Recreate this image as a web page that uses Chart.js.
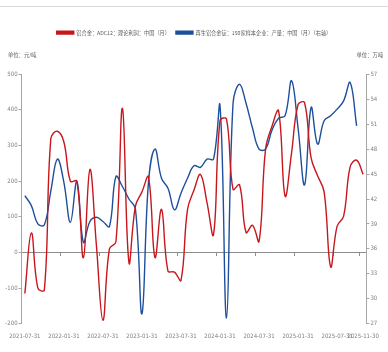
<!DOCTYPE html>
<html>
<head>
<meta charset="utf-8">
<script src="https://cdn.jsdelivr.net/npm/chart.js@4.4.1/dist/chart.umd.min.js"></script>
<style>
  html, body { margin: 0; padding: 0; background: #fff; }
  #wrap { position: relative; width: 388px; height: 352px; }
  #topline { position: absolute; left: 0; top: 6px; width: 388px; height: 1px; background: #d9d9d9; }
  canvas { position: absolute; left: 0; top: 0; }
</style>
</head>
<body>
<div id="wrap">
  <canvas id="chart" width="388" height="352"></canvas>
  <div id="topline"></div>
</div>
<script>
// monthly points, month-end dates
const months = [
    '2021-07-31', '2021-08-31', '2021-09-30', '2021-10-31', '2021-11-30', '2021-12-31',
    '2022-01-31', '2022-02-28', '2022-03-31', '2022-04-30', '2022-05-31', '2022-06-30',
    '2022-07-31', '2022-08-31', '2022-09-30', '2022-10-31', '2022-11-30', '2022-12-31',
    '2023-01-31', '2023-02-28', '2023-03-31', '2023-04-30', '2023-05-31', '2023-06-30',
    '2023-07-31', '2023-08-31', '2023-09-30', '2023-10-31', '2023-11-30', '2023-12-31',
    '2024-01-31', '2024-02-29', '2024-03-31', '2024-04-30', '2024-05-31', '2024-06-30',
    '2024-07-31', '2024-08-31', '2024-09-30', '2024-10-31', '2024-11-30', '2024-12-31',
    '2025-01-31', '2025-02-28', '2025-03-31', '2025-04-30', '2025-05-31', '2025-06-30',
    '2025-07-31', '2025-08-31', '2025-09-30', '2025-10-31', '2025-11-30'
];

const tickLabels = [
    '2021-07-31', '2022-01-31', '2022-07-31', '2023-01-31', '2023-07-31',
    '2024-01-31', '2024-07-31', '2025-01-31', '2025-07-31', '2025-11-30'
];

// ADC12 theoretical profit, yuan/t (left axis)
const profit = [
    -115, 55, -100, -105, 320, 340, 310, 200, 200, -15,
    233, 20, -190, 10, 30, 404, -28, 130, 170, 212,
    -14, 121, -52, -55, -78, 120, 175, 219, 140, 50,
    370, 374, 177, 190, 56, 76, 31, 290, 355, 397,
    158, 280, 415, 420, 265, 215, 170, -40, 74, 102,
    240, 259, 219
];

// secondary aluminium alloy ingot output, 10k t (right axis)
const output = [
    42.4, 41.2, 39.0, 38.9, 43.0, 46.8, 44.0, 39.2, 44.1, 36.8,
    39.3, 39.8, 39.3, 38.7, 44.7, 43.5, 42.0, 40.8, 28.2, 44.0,
    48.0, 44.5, 43.3, 40.7, 42.7, 44.5, 46.0, 45.8, 46.8, 46.8,
    53.2, 27.7, 53.5, 55.8, 53.5, 50.5, 48.0, 48.0, 50.3, 51.7,
    52.0, 56.2, 50.5, 43.7, 53.0, 48.6, 51.4, 52.0, 52.8, 53.8,
    56.0, 50.8
];

const profitName = '铝合金：ADC12：理论利润：中国（月）';
const outputName = '再生铝合金锭：150家样本企业：产量：中国（月）（右轴）';
const leftUnit = '单位：元/吨';
const rightUnit = '单位：万吨';

const RED = '#C8161D';
const BLUE = '#1D4F9C';
const AXIS = '#a6a6a6';
const TICK_FONT = { family: "'Liberation Sans Narrow', 'DejaVu Sans Condensed', 'Liberation Sans', sans-serif", size: 6 };
const CJK_FONT = "'Noto Sans CJK SC', sans-serif";

// extra room under the legend
const legendSpacer = {
    id: 'legendSpacer',
    beforeInit(chart) {
        const fit = chart.legend.fit;
        chart.legend.fit = function () {
            fit.bind(chart.legend)();
            this.height += 29;
        };
    }
};

const units = {
    id: 'units',
    afterDraw(chart) {
        const { ctx, chartArea } = chart;
        ctx.save();
        ctx.font = '5.3px ' + CJK_FONT;
        ctx.fillStyle = '#595959';
        ctx.textBaseline = 'middle';
        ctx.textAlign = 'left';
        ctx.fillText(leftUnit, 8, chartArea.top - 19);
        ctx.textAlign = 'right';
        ctx.fillText(rightUnit, 383, chartArea.top - 19);
        ctx.restore();
    }
};

const ctx = document.getElementById('chart').getContext('2d');
new Chart(ctx, {
    type: 'line',
    data: {
        labels: months,
        datasets: [{
            label: profitName,
            data: profit,
            yAxisID: 'y',
            borderColor: RED,
            backgroundColor: RED,
            borderWidth: 1.4,
            pointRadius: 0,
            tension: 0.4
        }, {
            label: outputName,
            data: output,
            yAxisID: 'y1',
            borderColor: BLUE,
            backgroundColor: BLUE,
            borderWidth: 1.4,
            pointRadius: 0,
            tension: 0.4
        }]
    },
    options: {
        responsive: false,
        animation: false,
        layout: { padding: { top: 24, bottom: 3, left: 0, right: 0 } },
        plugins: {
            legend: {
                position: 'top',
                labels: {
                    boxWidth: 17,
                    boxHeight: 3,
                    padding: 6,
                    color: '#595959',
                    font: { family: CJK_FONT, size: 5.2 }
                }
            },
            tooltip: { enabled: false }
        },
        scales: {
            x: {
                type: 'category',
                offset: true,
                grid: { display: false, drawTicks: false },
                border: { display: false },
                ticks: {
                    autoSkip: false,
                    maxRotation: 0,
                    padding: 9,
                    color: '#808080',
                    font: TICK_FONT,
                    callback(value) {
                        const label = this.getLabelForValue(value);
                        return tickLabels.includes(label) ? label : '';
                    }
                }
            },
            xZero: {
                type: 'category',
                position: { y: 0 },
                offset: true,
                grid: {
                    offset: true,
                    drawOnChartArea: false,
                    drawTicks: true,
                    tickLength: 3,
                    lineWidth: 1,
                    tickColor: (c) => tickLabels.includes(months[c.index]) && c.index > 0 ? '#8c8c8c' : 'rgba(0,0,0,0)'
                },
                border: { color: '#8c8c8c', width: 1 },
                ticks: { display: false }
            },
            y: {
                position: 'left',
                min: -200,
                max: 500,
                ticks: { stepSize: 100, padding: 1, color: '#808080', font: TICK_FONT },
                grid: { drawOnChartArea: false, tickLength: 3, color: AXIS },
                border: { color: AXIS },
                afterFit(scale) { scale.width = 21; }
            },
            y1: {
                position: 'right',
                min: 27,
                max: 57,
                ticks: { stepSize: 3, padding: 1, color: '#808080', font: TICK_FONT },
                grid: { drawOnChartArea: false, tickLength: 3, color: AXIS },
                border: { color: AXIS },
                afterFit(scale) { scale.width = 18; }
            }
        }
    },
    plugins: [legendSpacer, units]
});
</script>
</body>
</html>
